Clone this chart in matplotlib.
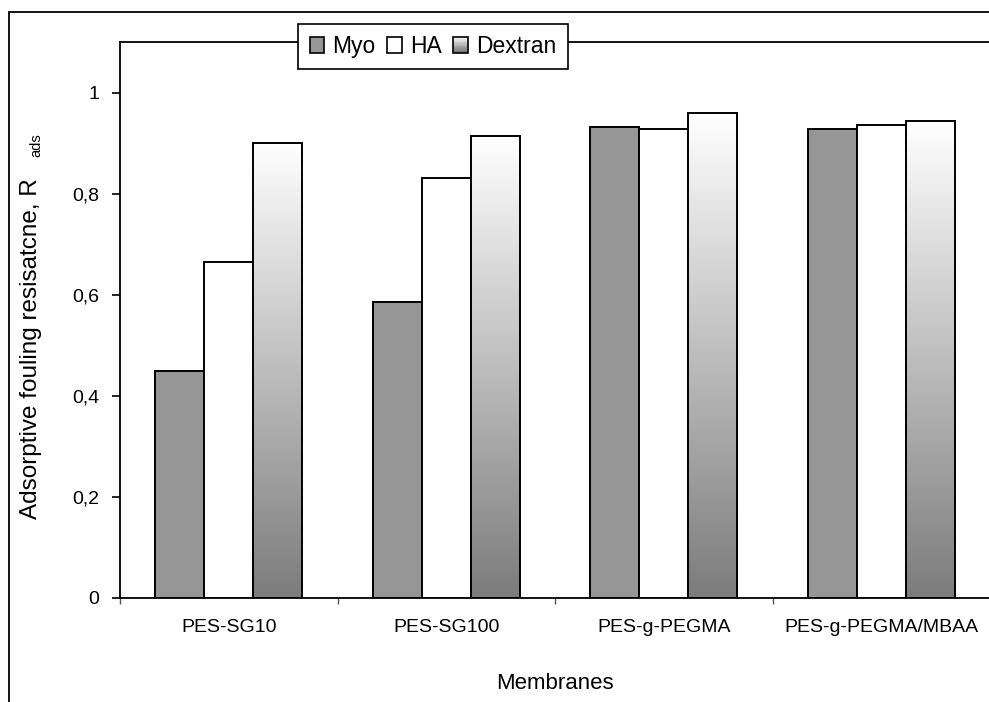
import numpy as np
import matplotlib
matplotlib.use("Agg")
import matplotlib.pyplot as plt
from matplotlib.patches import Rectangle
from matplotlib.legend_handler import HandlerBase

plt.rcParams['font.family'] = ['Liberation Sans', 'DejaVu Sans']

membranes = ["PES-SG10", "PES-SG100", "PES-g-PEGMA", "PES-g-PEGMA/MBAA"]
myo = [0.45, 0.585, 0.932, 0.928]
ha = [0.664, 0.83, 0.928, 0.936]
dextran = [0.901, 0.915, 0.960, 0.944]
yticks = [0, 0.2, 0.4, 0.6, 0.8, 1.0]
ytick_labels = ["0", "0,2", "0,4", "0,6", "0,8", "1"]

W, H = 989, 702
fig = plt.figure(figsize=(W / 100, H / 100), dpi=100)

# outer chart frame
fig.add_artist(Rectangle((9 / W, -0.1), 1.2, (H - 12) / H + 0.1,
                         transform=fig.transFigure, fill=False,
                         edgecolor="black", linewidth=1.3))

ax = fig.add_axes([120 / W, (H - 598) / H, 870 / W, 556 / H])
ax.set_xlim(-0.5, 3.5)
ax.set_ylim(0, 1.1)

x = np.arange(len(membranes))
bw = 0.225
edge = dict(edgecolor="black", linewidth=1.4)

ax.bar(x - bw, myo, bw, color="#969696", zorder=3, **edge)
ax.bar(x, ha, bw, color="white", zorder=3, **edge)

# gradient-filled Dextran bars: white at the top fading to grey at the base
grad = np.linspace(1.0, 0.0, 256).reshape(-1, 1)
cmap = matplotlib.colors.LinearSegmentedColormap.from_list("dex", ["#7c7c7c", "#ffffff"])
dex_bars = ax.bar(x + bw, dextran, bw, color="none", zorder=4, **edge)
for b in dex_bars:
    x0, w, h = b.get_x(), b.get_width(), b.get_height()
    ax.imshow(grad, extent=[x0, x0 + w, 0, h], cmap=cmap, vmin=0, vmax=1,
              aspect="auto", zorder=3, interpolation="bilinear")
ax.set_xlim(-0.5, 3.5)
ax.set_ylim(0, 1.1)

# axes styling
ax.spines["right"].set_visible(False)
for s in ("left", "top", "bottom"):
    ax.spines[s].set_linewidth(1.3)
ax.set_yticks(yticks)
ax.set_yticklabels(ytick_labels, fontsize=14)
ax.tick_params(axis="y", length=6, width=1.2, pad=9)
ax.set_xticks(np.arange(-0.5, 4.0, 1.0))
ax.set_xticklabels([])
ax.tick_params(axis="x", which="major", length=4, width=1.0, color="#555555")
ax.set_xticks(x, minor=True)
ax.set_xticklabels(membranes, minor=True, fontsize=14)
ax.tick_params(axis="x", which="minor", length=0, pad=15)

ax.set_xlabel("Membranes", fontsize=16, labelpad=27)

# y-axis title with a detached subscript
fig.text(31 / W, 1 - 349 / H, "Adsorptive fouling resisatcne, R", rotation=90,
         ha="center", va="center", fontsize=17.5)
fig.text(36 / W, 1 - 145 / H, "ads", rotation=90, ha="center", va="center",
         fontsize=10.5)


class GradientHandler(HandlerBase):
    def create_artists(self, legend, orig_handle, xdescent, ydescent,
                       width, height, fontsize, trans):
        n = 12
        arts = []
        for i in range(n):
            g = 1.0 - 0.55 * (i + 0.5) / n
            arts.append(Rectangle((-xdescent, -ydescent + height * (n - 1 - i) / n),
                                  width, height / n + 0.3, facecolor=(g, g, g),
                                  edgecolor="none", transform=trans))
        arts.append(Rectangle((-xdescent, -ydescent), width, height, fill=False,
                              edgecolor="black", linewidth=1.2, transform=trans))
        return arts


h_myo = Rectangle((0, 0), 1, 1, facecolor="#969696", edgecolor="black", linewidth=1.2)
h_ha = Rectangle((0, 0), 1, 1, facecolor="white", edgecolor="black", linewidth=1.2)
h_dex = Rectangle((0, 0), 1, 1)
leg = ax.legend([h_myo, h_ha, h_dex], ["Myo", "HA", "Dextran"],
                handler_map={h_dex: GradientHandler()},
                ncol=3, loc="center", bbox_to_anchor=(433 / W, 1 - 46.5 / H),
                bbox_transform=fig.transFigure, fontsize=16.5, frameon=True,
                fancybox=False, edgecolor="black", framealpha=1,
                handlelength=0.65, handleheight=0.65, handletextpad=0.35,
                columnspacing=0.5, borderpad=0.5, borderaxespad=0)
leg.get_frame().set_linewidth(1.2)
leg.set_zorder(10)

fig.savefig("out.png", dpi=100)
